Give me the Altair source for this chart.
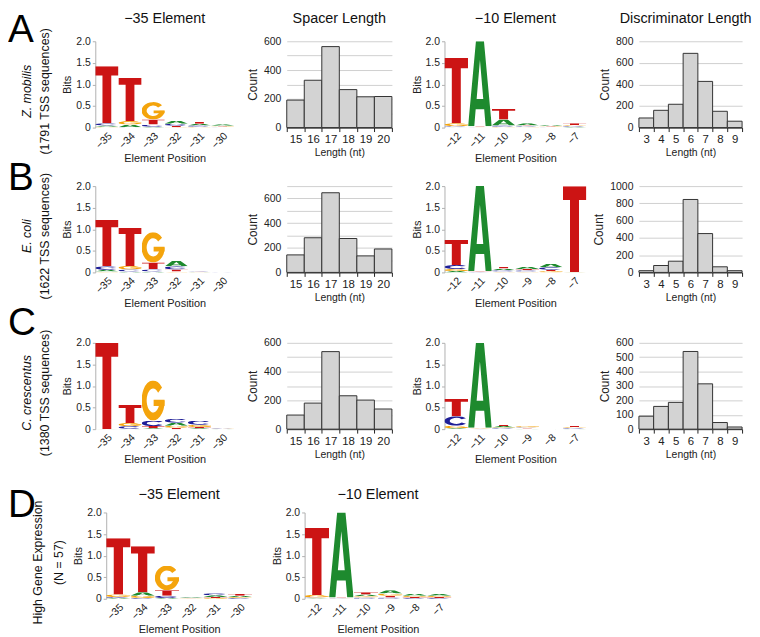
import base64
import altair as alt
import pandas as pd

# ---------------- data ----------------
POS35 = ["−35", "−34", "−33", "−32", "−31", "−30"]
POS10 = ["−12", "−11", "−10", "−9", "−8", "−7"]
SPACER_LEN = [15, 16, 17, 18, 19, 20]
DISC_LEN = [3, 4, 5, 6, 7, 8, 9]

# information content (bits) per base at each logo position
ZM_35 = {"A": [0.03, 0.06, 0.02, 0.07, 0.04, 0.03],
         "C": [0.05, 0.01, 0.05, 0.05, 0.03, 0.01],
         "G": [0.02, 0.08, 0.40, 0.01, 0.02, 0.015],
         "T": [1.32, 1.00, 0.12, 0.03, 0.045, 0.02]}
ZM_10 = {"A": [0.01, 1.97, 0.14, 0.05, 0.03, 0.02],
         "C": [0.02, 0.01, 0.03, 0.02, 0.01, 0.02],
         "G": [0.07, 0.01, 0.02, 0.01, 0.015, 0.02],
         "T": [1.52, 0.01, 0.24, 0.02, 0.015, 0.04]}
EC_35 = {"A": [0.04, 0.02, 0.02, 0.13, 0.01, 0.005],
         "C": [0.08, 0.05, 0.05, 0.07, 0.01, 0.005],
         "G": [0.02, 0.08, 0.70, 0.02, 0.005, 0.005],
         "T": [1.08, 0.88, 0.16, 0.05, 0.01, 0.005]}
EC_10 = {"A": [0.03, 1.97, 0.04, 0.05, 0.08, 0.003],
         "C": [0.09, 0.01, 0.03, 0.03, 0.06, 0.003],
         "G": [0.05, 0.01, 0.02, 0.02, 0.03, 0.003],
         "T": [0.58, 0.01, 0.04, 0.03, 0.03, 1.99]}
CC_35 = {"A": [0.001, 0.01, 0.02, 0.07, 0.02, 0.005],
         "C": [0.001, 0.06, 0.13, 0.09, 0.10, 0.01],
         "G": [0.001, 0.07, 0.93, 0.05, 0.05, 0.01],
         "T": [1.997, 0.42, 0.05, 0.03, 0.03, 0.005]}
CC_10 = {"A": [0.02, 1.97, 0.03, 0.01, 0.003, 0.01],
         "C": [0.22, 0.01, 0.02, 0.02, 0.003, 0.02],
         "G": [0.06, 0.01, 0.02, 0.03, 0.003, 0.02],
         "T": [0.40, 0.01, 0.03, 0.01, 0.003, 0.025]}
HI_35 = {"A": [0.02, 0.08, 0.02, 0.015, 0.04, 0.03],
         "C": [0.02, 0.02, 0.05, 0.015, 0.05, 0.02],
         "G": [0.06, 0.05, 0.57, 0.01, 0.02, 0.02],
         "T": [1.30, 1.07, 0.13, 0.01, 0.02, 0.04]}
HI_10 = {"A": [0.01, 1.97, 0.04, 0.08, 0.05, 0.04],
         "C": [0.02, 0.01, 0.03, 0.03, 0.02, 0.02],
         "G": [0.06, 0.01, 0.03, 0.05, 0.03, 0.03],
         "T": [1.56, 0.01, 0.05, 0.04, 0.02, 0.02]}

ZM_SPACER = [191, 329, 563, 264, 214, 216]
EC_SPACER = [142, 281, 646, 275, 134, 190]
CC_SPACER = [98, 181, 539, 232, 202, 140]
ZM_DISC = [89, 160, 216, 688, 428, 151, 59]
EC_DISC = [20, 80, 130, 845, 450, 65, 20]
CC_DISC = [90, 158, 186, 540, 315, 46, 15]

# ---------------- styling ----------------
REG = "Liberation Sans, Arial, sans-serif"
H = 87
COLORS = {"A": "#1e8a2e", "C": "#1f1f97", "G": "#f4a40c", "T": "#cc1414"}
GLYPHS = {
    "T": [("M0 0H100V16H69V100H31V16H0Z", "nonzero")],
    "A": [("M0 100L33 0H67L100 100H74L68 80H32L26 100ZM36 68H64L50 22Z", "evenodd")],
    "C": [("M90.96 21.32A50 50 0 1 0 90.96 78.68L72.94 67.21A28 30 0 1 1 72.94 32.79Z", "nonzero")],
    "G": [("M88.3 17.9A50 50 0 1 0 100 50L78 50A28 30 0 1 1 71.45 30.72Z", "nonzero"),
          ("M52 48H100V64H52Z", "nonzero")],
}


def glyph_url(nt):
    paths = "".join(f'<path d="{d}" fill="{COLORS[nt]}" fill-rule="{r}"/>' for d, r in GLYPHS[nt])
    svg = ('<svg xmlns="http://www.w3.org/2000/svg" width="100" height="100" '
           f'viewBox="0 0 100 100" preserveAspectRatio="none">{paths}</svg>')
    return "data:image/svg+xml;base64," + base64.b64encode(svg.encode()).decode()


URLS = {nt: glyph_url(nt) for nt in "ACGT"}


def logo_frame(heights, positions):
    rows = []
    for i, p in enumerate(positions):
        stack = sorted((heights[nt][i], nt) for nt in "ACGT")
        base = 0.0
        for h, nt in stack:
            rows.append({"pos": p, "nt": nt, "y0": base, "y1": base + h, "url": URLS[nt]})
            base += h
    return pd.DataFrame(rows)


def title_params(text, offset, dx=0):
    return alt.TitleParams(text, font=REG, fontSize=14.5, fontWeight="normal",
                           color="#111", offset=offset, dx=dx)


def logo_chart(heights, positions, width, title=None, offset=10):
    props = dict(width=width, height=H)
    if title:
        props["title"] = title_params(title, offset)
    return alt.Chart(logo_frame(heights, positions)).mark_image(aspect=False).encode(
        x=alt.X("pos:N", scale=alt.Scale(domain=positions, paddingInner=0, paddingOuter=0),
                axis=alt.Axis(title="Element Position", labelAngle=-45, domain=False, ticks=False,
                              labelPadding=3, titlePadding=2, labelFontSize=10.5, titleFontSize=11)),
        y=alt.Y("y1:Q", scale=alt.Scale(domain=[0, 2], nice=False),
                axis=alt.Axis(title="Bits", values=[0, 0.5, 1, 1.5, 2], grid=False,
                              labelExpr="datum.value == 0 ? '0' : format(datum.value, '.1f')",
                              domainColor="#b0b0b0", tickColor="#b0b0b0", tickSize=3,
                              labelPadding=2, titlePadding=3, labelFontSize=10.5, titleFontSize=11)),
        y2="y0:Q",
        url="url:N",
    ).properties(**props)


def hist_chart(lengths, counts, ymax, grid_step, label_step, width, title=None, offset=10, dx=0):
    props = dict(width=width, height=H)
    if title:
        props["title"] = title_params(title, offset, dx)
    df = pd.DataFrame({"len": lengths, "count": counts})
    return alt.Chart(df).mark_bar(fill="#d3d3d3", stroke="#333333", strokeWidth=1).encode(
        x=alt.X("len:O", scale=alt.Scale(paddingInner=0, paddingOuter=0),
                axis=alt.Axis(title="Length (nt)", labelAngle=0, tickBand="extent",
                              domainColor="#222", tickColor="#222", tickSize=4, labelPadding=2,
                              titlePadding=3, labelFontSize=11.5, titleFontSize=10.5)),
        y=alt.Y("count:Q", scale=alt.Scale(domain=[0, ymax], nice=False),
                axis=alt.Axis(title="Count", values=list(range(0, ymax + 1, grid_step)),
                              labelExpr=f"datum.value % {label_step} === 0 ? format(datum.value, 'd') : ''",
                              domain=False, ticks=False, gridColor="#cfcfcf", labelPadding=6,
                              titlePadding=4, labelFontSize=10.5, titleFontSize=12)),
    ).properties(**props)


def side_chart(letter, line1, line2, italic, width, letter_y, x1, x2):
    base = alt.Chart(pd.DataFrame({"k": [0]}))
    lt = base.mark_text(text=letter, font=REG, fontSize=39, align="left",
                        baseline="alphabetic", color="#000").encode(x=alt.value(0), y=alt.value(letter_y))
    t1 = base.mark_text(text=line1, font=REG, fontSize=12.5, angle=270, color="#111",
                        fontStyle="italic" if italic else "normal").encode(x=alt.value(x1), y=alt.value(H / 2 + 7))
    t2 = base.mark_text(text=line2, font=REG, fontSize=12.5, angle=270, color="#111").encode(
        x=alt.value(x2), y=alt.value(H / 2 + 7))
    return alt.layer(lt, t1, t2).properties(width=width, height=H)


GAP = 53
row_a = alt.hconcat(
    side_chart("A", "Z. mobilis", "(1791 TSS sequences)", True, 35, 1, 19, 37),
    logo_chart(ZM_35, POS35, 140, "−35 Element"),
    hist_chart(SPACER_LEN, ZM_SPACER, 600, 100, 200, 106, "Spacer Length"),
    logo_chart(ZM_10, POS10, 143, "−10 Element"),
    hist_chart(DISC_LEN, ZM_DISC, 800, 200, 200, 104, "Discriminator Length", dx=-5),
    spacing=GAP, bounds="flush")
row_b = alt.hconcat(
    side_chart("B", "E. coli", "(1622 TSS sequences)", True, 35, 4, 19, 37),
    logo_chart(EC_35, POS35, 140),
    hist_chart(SPACER_LEN, EC_SPACER, 700, 100, 200, 106),
    logo_chart(EC_10, POS10, 143),
    hist_chart(DISC_LEN, EC_DISC, 1000, 200, 200, 104),
    spacing=GAP, bounds="flush")
row_c = alt.hconcat(
    side_chart("C", "C. crescentus", "(1380 TSS sequences)", True, 35, -8, 19, 37),
    logo_chart(CC_35, POS35, 140),
    hist_chart(SPACER_LEN, CC_SPACER, 600, 100, 200, 106),
    logo_chart(CC_10, POS10, 143),
    hist_chart(DISC_LEN, CC_DISC, 600, 100, 100, 104),
    spacing=GAP, bounds="flush")
row_d = alt.hconcat(
    side_chart("D", "High Gene Expression", "(N = 57)", False, 46, 5, 30, 51),
    logo_chart(HI_35, POS35, 147, "−35 Element", offset=5),
    logo_chart(HI_10, POS10, 148, "−10 Element", offset=5),
    spacing=GAP, bounds="flush")

top3 = alt.vconcat(row_a, row_b, row_c, spacing=-5)
chart = alt.vconcat(top3, row_d, spacing=21).properties(padding=0).configure_view(
    stroke=None).configure_axis(
    labelFont=REG, titleFont=REG, labelColor="#222", titleColor="#222",
    titleFontWeight="normal")

chart.save("out.html", embed_options={"renderer": "svg", "actions": False})
